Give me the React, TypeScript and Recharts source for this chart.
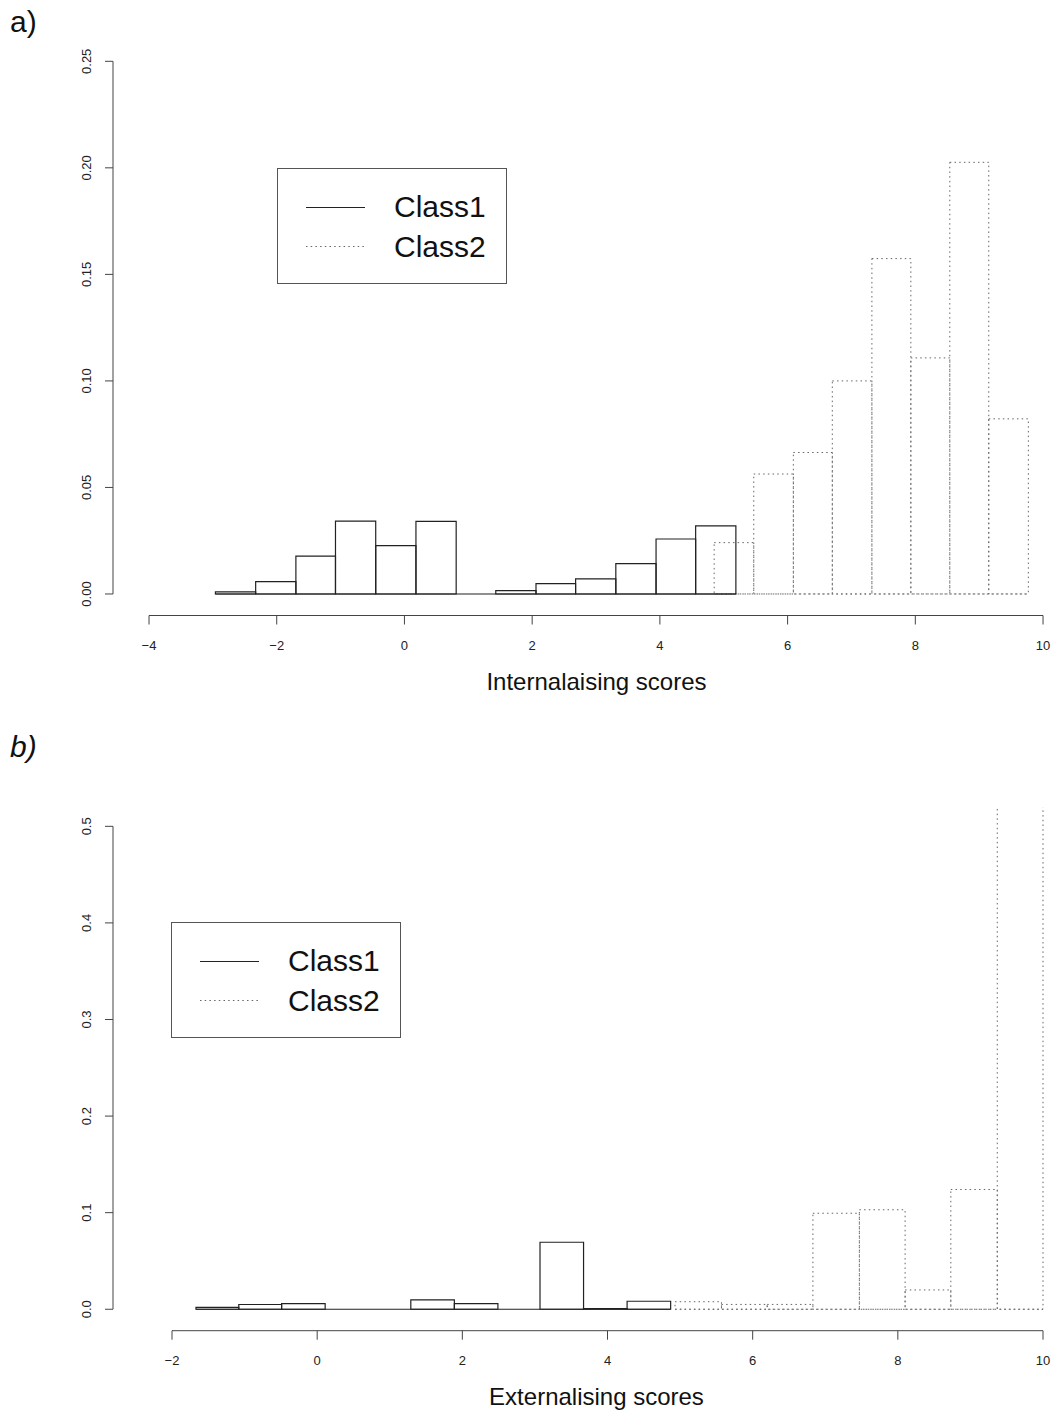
import { ComposedChart, XAxis, YAxis, ReferenceArea, ReferenceLine, Legend, Label } from "recharts";

// a) internalising scores: histogram breaks and densities per latent class
const INT_C1_BREAKS = [-2.96, -2.33, -1.7, -1.08, -0.45, 0.18, 0.81, 1.43, 2.06, 2.68, 3.31, 3.94, 4.56, 5.19];
const INT_C1_DENS = [0.001, 0.0058, 0.0178, 0.0342, 0.0227, 0.0341, 0, 0.0016, 0.0049, 0.0071, 0.0142, 0.0258, 0.032];
const INT_C2_BREAKS = [4.85, 5.47, 6.09, 6.7, 7.32, 7.93, 8.54, 9.15, 9.77];
const INT_C2_DENS = [0.0241, 0.0563, 0.0664, 0.1, 0.1574, 0.1108, 0.2026, 0.0822];
const INT_X_TICKS = [-4, -2, 0, 2, 4, 6, 8, 10];
const INT_Y_TICKS = [0, 0.05, 0.1, 0.15, 0.2, 0.25];

// b) externalising scores
const EXT_C1_BREAKS = [-1.67, -1.08, -0.49, 0.11, 0.71, 1.29, 1.89, 2.49, 3.07, 3.67, 4.27, 4.87];
const EXT_C1_DENS = [0.002, 0.0049, 0.0059, 0, 0, 0.0097, 0.0059, 0, 0.0694, 0.0007, 0.0083];
const EXT_C2_BREAKS = [4.93, 5.57, 6.2, 6.83, 7.47, 8.1, 8.73, 9.37, 10.0];
const EXT_C2_DENS = [0.0078, 0.005, 0.005, 0.0994, 0.103, 0.02, 0.124, 0.62];
const EXT_X_TICKS = [-2, 0, 2, 4, 6, 8, 10];
const EXT_Y_TICKS = [0, 0.1, 0.2, 0.3, 0.4, 0.5];

const FONT = "'Liberation Sans', Arial, Helvetica, sans-serif";
const AXIS = "#444";
const SOLID = "#222";
const DOTTED = "#666";
const DOTS = "1.5 3.2";

type Bin = { lo: number; hi: number; d: number };

const toBins = (breaks: number[], dens: number[]): Bin[] =>
  dens.map((d, i) => ({ lo: breaks[i], hi: breaks[i + 1], d }));

const fmtX = (v: number) => (v < 0 ? "\u2212" + Math.abs(v) : String(v));

function RotTick(props: any) {
  const { x, y, payload, digits } = props;
  return (
    <text
      x={x}
      y={y}
      transform={`rotate(-90 ${x} ${y})`}
      textAnchor="middle"
      fontSize={13}
      fontFamily={FONT}
      fill="#222"
    >
      {Number(payload.value).toFixed(digits)}
    </text>
  );
}

function LegendBox() {
  return (
    <svg width={230} height={116} style={{ display: "block" }}>
      <rect x={0.5} y={0.5} width={229} height={115} fill="none" stroke="#555" />
      <line x1={29} x2={88} y1={39.5} y2={39.5} stroke={SOLID} />
      <line x1={29} x2={88} y1={78.5} y2={78.5} stroke={DOTTED} strokeDasharray={DOTS} />
      <text x={117} y={49} fontSize={30} fontFamily={FONT} fill="#111">Class1</text>
      <text x={117} y={89} fontSize={30} fontFamily={FONT} fill="#111">Class2</text>
    </svg>
  );
}

interface PanelProps {
  top: number;
  height: number;
  plotTop: number;
  axisH: number;
  xDomain: [number, number];
  yDomain: [number, number];
  xTicks: number[];
  yTicks: number[];
  digits: number;
  xLabel: string;
  c1: Bin[];
  c2: Bin[];
  legend: { left: number; top: number };
}

function Panel(p: PanelProps) {
  const c1Lo = p.c1[0].lo;
  const c1Hi = p.c1[p.c1.length - 1].hi;
  const c2Lo = p.c2[0].lo;
  const c2Hi = p.c2[p.c2.length - 1].hi;
  // bin midpoints give the x axis something to hang on
  const rows = [...p.c1, ...p.c2].map((b) => ({ x: (b.lo + b.hi) / 2, d: b.d }));
  return (
    <div style={{ position: "absolute", left: 0, top: p.top }}>
      <ComposedChart
        width={1056}
        height={p.height}
        data={rows}
        margin={{ top: p.plotTop, right: 0, bottom: 0, left: 0 }}
      >
        <XAxis
          type="number"
          dataKey="x"
          domain={p.xDomain}
          allowDataOverflow
          ticks={p.xTicks}
          interval={0}
          height={p.axisH}
          axisLine={false}
          tickLine={{ stroke: AXIS }}
          tickSize={9}
          tickMargin={16}
          tick={{ fontSize: 13, fill: "#222", fontFamily: FONT }}
          tickFormatter={fmtX}
        >
          <Label
            value={p.xLabel}
            position="insideTop"
            offset={57}
            dx={12}
            fontSize={24}
            fontFamily={FONT}
            fill="#111"
          />
        </XAxis>
        <YAxis
          type="number"
          dataKey="d"
          domain={p.yDomain}
          allowDataOverflow
          ticks={p.yTicks}
          interval={0}
          width={113}
          axisLine={false}
          tickLine={{ stroke: AXIS }}
          tickSize={8}
          tickMargin={14}
          tick={<RotTick digits={p.digits} />}
        />

        {/* R-style axes: lines only span first to last tick */}
        <ReferenceLine
          segment={[{ x: p.xTicks[0], y: p.yDomain[0] }, { x: p.xTicks[p.xTicks.length - 1], y: p.yDomain[0] }]}
          stroke={AXIS}
          ifOverflow="visible"
        />
        <ReferenceLine
          segment={[{ x: p.xDomain[0], y: p.yTicks[0] }, { x: p.xDomain[0], y: p.yTicks[p.yTicks.length - 1] }]}
          stroke={AXIS}
          ifOverflow="visible"
        />

        {/* Class2 histogram, dotted outline */}
        {p.c2.map((b, i) => (
          <ReferenceArea
            key={"c2" + i}
            x1={b.lo}
            x2={b.hi}
            y1={0}
            y2={b.d}
            fill="none"
            stroke={DOTTED}
            strokeDasharray={DOTS}
            ifOverflow="hidden"
          />
        ))}
        <ReferenceLine
          segment={[{ x: c2Lo, y: 0 }, { x: c2Hi, y: 0 }]}
          stroke={DOTTED}
          strokeDasharray={DOTS}
          ifOverflow="visible"
        />

        {/* Class1 histogram, solid outline */}
        {p.c1.map((b, i) => (
          <ReferenceArea
            key={"c1" + i}
            x1={b.lo}
            x2={b.hi}
            y1={0}
            y2={b.d}
            fill="none"
            stroke={SOLID}
            strokeWidth={1.2}
            ifOverflow="hidden"
          />
        ))}
        <ReferenceLine
          segment={[{ x: c1Lo, y: 0 }, { x: c1Hi, y: 0 }]}
          stroke={SOLID}
          strokeWidth={1.2}
          ifOverflow="visible"
        />

        <Legend
          layout="vertical"
          align="center"
          verticalAlign="middle"
          wrapperStyle={{ left: p.legend.left, top: p.legend.top, width: 230, height: 116 }}
          content={() => <LegendBox />}
        />
      </ComposedChart>
    </div>
  );
}

export default function App() {
  return (
    <div style={{ position: "absolute", left: 0, top: 0, width: 1056, height: 1411, background: "#fff", fontFamily: FONT }}>
      <svg style={{ position: "absolute", left: 0, top: 0 }} width={60} height={50}>
        <text x={10} y={32} fontSize={30} fontFamily={FONT} fill="#111">a)</text>
      </svg>
      <Panel
        top={0}
        height={710}
        plotTop={40}
        axisH={94.5}
        xDomain={[-4.564, 10.203]}
        yDomain={[-0.0101, 0.26]}
        xTicks={INT_X_TICKS}
        yTicks={INT_Y_TICKS}
        digits={2}
        xLabel="Internalaising scores"
        c1={toBins(INT_C1_BREAKS, INT_C1_DENS)}
        c2={toBins(INT_C2_BREAKS, INT_C2_DENS)}
        legend={{ left: 277, top: 168 }}
      />
      <svg style={{ position: "absolute", left: 0, top: 725 }} width={60} height={50}>
        <text x={10} y={32} fontSize={30} fontFamily={FONT} fontStyle="italic" fill="#111">b)</text>
      </svg>
      <Panel
        top={730}
        height={681}
        plotTop={77}
        axisH={80.3}
        xDomain={[-2.813, 10.179]}
        yDomain={[-0.0222, 0.52]}
        xTicks={EXT_X_TICKS}
        yTicks={EXT_Y_TICKS}
        digits={1}
        xLabel="Externalising scores"
        c1={toBins(EXT_C1_BREAKS, EXT_C1_DENS)}
        c2={toBins(EXT_C2_BREAKS, EXT_C2_DENS)}
        legend={{ left: 171, top: 192 }}
      />
    </div>
  );
}
